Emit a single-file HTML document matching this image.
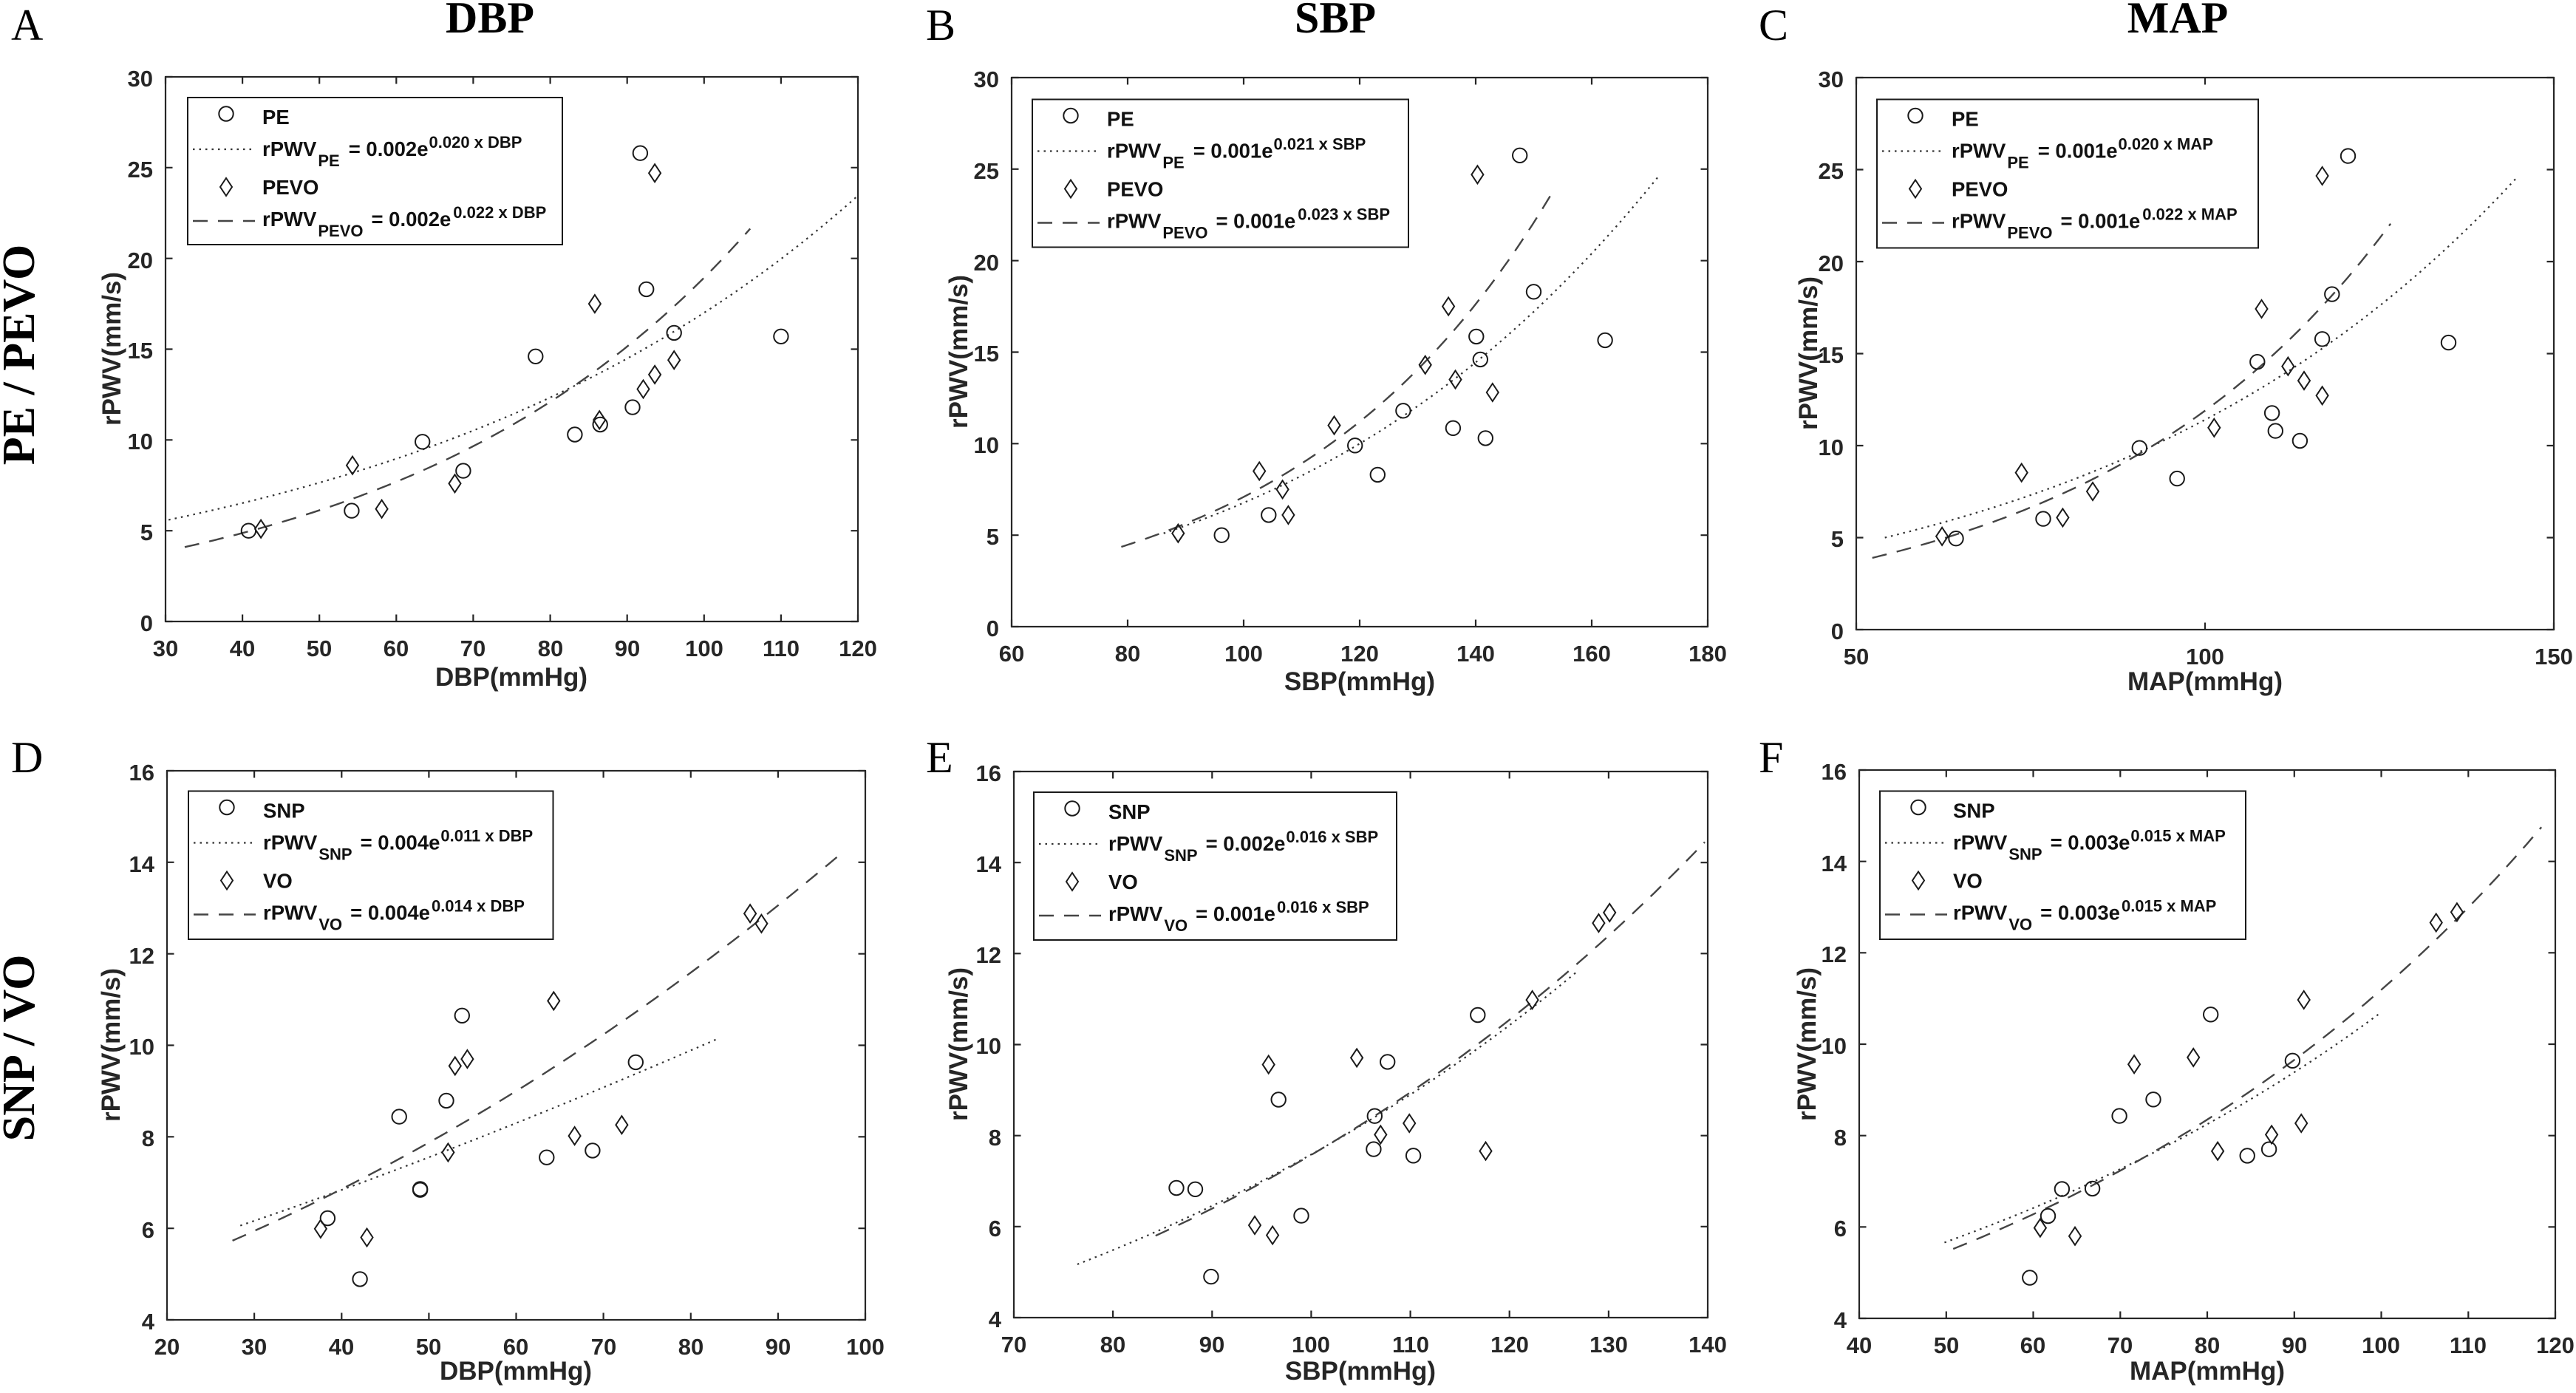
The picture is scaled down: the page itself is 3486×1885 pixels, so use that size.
<!DOCTYPE html>
<html>
<head>
<meta charset="utf-8">
<style>
html,body{margin:0;padding:0;background:#fff;}
svg{display:block;}
.tk{font-family:"Liberation Sans",Arial,sans-serif;font-weight:bold;font-size:31px;fill:#262626;}
.tx{text-anchor:middle;}
.ty{text-anchor:end;}
.al{font-family:"Liberation Sans",Arial,sans-serif;font-weight:bold;font-size:35px;fill:#262626;text-anchor:middle;}
.lg{font-family:"Liberation Sans",Arial,sans-serif;font-weight:bold;font-size:27.5px;fill:#111;}
.sm{font-size:22px;}
.ti{font-family:"Liberation Serif","Times New Roman",serif;font-weight:bold;font-size:60px;fill:#000;text-anchor:middle;}
.pl{font-family:"Liberation Serif","Times New Roman",serif;font-size:60px;fill:#000;}
.rl{font-family:"Liberation Serif","Times New Roman",serif;font-weight:bold;font-size:62px;fill:#000;text-anchor:middle;}
.ax{fill:none;stroke:#262626;stroke-width:2.2;}
.lb{fill:#fff;stroke:#1a1a1a;stroke-width:2;}
.mk{fill:none;stroke:#1a1a1a;stroke-width:2;}
.dt{fill:none;stroke:#333;stroke-width:2.2;stroke-dasharray:2.5 6;}
.ds{fill:none;stroke:#444;stroke-width:2.4;stroke-dasharray:20 14;}
</style>
</head>
<body>
<svg id="S" width="3486" height="1885" viewBox="0 0 3486 1885" xmlns="http://www.w3.org/2000/svg">
<rect x="0" y="0" width="3486" height="1885" fill="#fff"/>

<!-- Titles and panel letters -->
<text class="ti" x="663" y="44">DBP</text>
<text class="ti" x="1807" y="44">SBP</text>
<text class="ti" x="2947" y="44">MAP</text>
<text class="pl" x="15" y="54">A</text>
<text class="pl" x="1253" y="54">B</text>
<text class="pl" x="2380" y="54">C</text>
<text class="pl" x="15" y="1045">D</text>
<text class="pl" x="1253" y="1045">E</text>
<text class="pl" x="2380" y="1045">F</text>
<text class="rl" transform="translate(46,480) rotate(-90)">PE / PEVO</text>
<text class="rl" transform="translate(46,1418) rotate(-90)">SNP / VO</text>

<!-- dynamic data layer -->
<g id="dyn"></g>

<!-- Axes boxes -->
<rect class="ax" x="224" y="104" width="937" height="737"/>
<rect class="ax" x="1369" y="105" width="942" height="743"/>
<rect class="ax" x="2512" y="105" width="944" height="747"/>
<rect class="ax" x="226" y="1043" width="945" height="743"/>
<rect class="ax" x="1372" y="1044" width="939" height="739"/>
<rect class="ax" x="2516" y="1042" width="942" height="742"/>

<!-- Panel A ticks labels -->
<g class="tk tx">
<text x="224" y="888">30</text><text x="328" y="888">40</text><text x="432" y="888">50</text><text x="536" y="888">60</text><text x="640" y="888">70</text><text x="745" y="888">80</text><text x="849" y="888">90</text><text x="953" y="888">100</text><text x="1057" y="888">110</text><text x="1161" y="888">120</text>
</g>
<g class="tk ty">
<text x="207" y="854">0</text><text x="207" y="731">5</text><text x="207" y="608">10</text><text x="207" y="485">15</text><text x="207" y="363">20</text><text x="207" y="240">25</text><text x="207" y="117">30</text>
</g>
<text class="al" x="692" y="928">DBP(mmHg)</text>
<text class="al" transform="translate(163,472) rotate(-90)">rPWV(mm/s)</text>

<!-- Panel B -->
<g class="tk tx">
<text x="1369" y="895">60</text><text x="1526" y="895">80</text><text x="1683" y="895">100</text><text x="1840" y="895">120</text><text x="1997" y="895">140</text><text x="2154" y="895">160</text><text x="2311" y="895">180</text>
</g>
<g class="tk ty">
<text x="1352" y="861">0</text><text x="1352" y="737">5</text><text x="1352" y="613">10</text><text x="1352" y="489">15</text><text x="1352" y="366">20</text><text x="1352" y="242">25</text><text x="1352" y="118">30</text>
</g>
<text class="al" x="1840" y="934">SBP(mmHg)</text>
<text class="al" transform="translate(1309,476) rotate(-90)">rPWV(mm/s)</text>

<!-- Panel C -->
<g class="tk tx">
<text x="2512" y="899">50</text><text x="2984" y="899">100</text><text x="3456" y="899">150</text>
</g>
<g class="tk ty">
<text x="2495" y="865">0</text><text x="2495" y="740">5</text><text x="2495" y="616">10</text><text x="2495" y="491">15</text><text x="2495" y="367">20</text><text x="2495" y="242">25</text><text x="2495" y="118">30</text>
</g>
<text class="al" x="2984" y="934">MAP(mmHg)</text>
<text class="al" transform="translate(2459,478) rotate(-90)">rPWV(mm/s)</text>

<!-- Panel D -->
<g class="tk tx">
<text x="226" y="1833">20</text><text x="344" y="1833">30</text><text x="462" y="1833">40</text><text x="580" y="1833">50</text><text x="698" y="1833">60</text><text x="817" y="1833">70</text><text x="935" y="1833">80</text><text x="1053" y="1833">90</text><text x="1171" y="1833">100</text>
</g>
<g class="tk ty">
<text x="209" y="1799">4</text><text x="209" y="1675">6</text><text x="209" y="1551">8</text><text x="209" y="1427">10</text><text x="209" y="1304">12</text><text x="209" y="1180">14</text><text x="209" y="1056">16</text>
</g>
<text class="al" x="698" y="1867">DBP(mmHg)</text>
<text class="al" transform="translate(162,1414) rotate(-90)">rPWV(mm/s)</text>

<!-- Panel E -->
<g class="tk tx">
<text x="1372" y="1830">70</text><text x="1506" y="1830">80</text><text x="1640" y="1830">90</text><text x="1774" y="1830">100</text><text x="1909" y="1830">110</text><text x="2043" y="1830">120</text><text x="2177" y="1830">130</text><text x="2311" y="1830">140</text>
</g>
<g class="tk ty">
<text x="1355" y="1796">4</text><text x="1355" y="1673">6</text><text x="1355" y="1550">8</text><text x="1355" y="1426">10</text><text x="1355" y="1303">12</text><text x="1355" y="1180">14</text><text x="1355" y="1057">16</text>
</g>
<text class="al" x="1841" y="1867">SBP(mmHg)</text>
<text class="al" transform="translate(1309,1413) rotate(-90)">rPWV(mm/s)</text>

<!-- Panel F -->
<g class="tk tx">
<text x="2516" y="1831">40</text><text x="2634" y="1831">50</text><text x="2751" y="1831">60</text><text x="2869" y="1831">70</text><text x="2987" y="1831">80</text><text x="3105" y="1831">90</text><text x="3222" y="1831">100</text><text x="3340" y="1831">110</text><text x="3458" y="1831">120</text>
</g>
<g class="tk ty">
<text x="2499" y="1797">4</text><text x="2499" y="1673">6</text><text x="2499" y="1550">8</text><text x="2499" y="1426">10</text><text x="2499" y="1302">12</text><text x="2499" y="1179">14</text><text x="2499" y="1055">16</text>
</g>
<text class="al" x="2987" y="1867">MAP(mmHg)</text>
<text class="al" transform="translate(2457,1413) rotate(-90)">rPWV(mm/s)</text>

<!-- Legend A -->
<rect class="lb" x="254" y="132" width="507" height="199"/>
<circle class="mk" cx="306" cy="154" r="9.7"/>
<path class="mk" d="M306 241 L314 253 L306 265 L298 253 Z"/>
<line class="dt" x1="261" y1="202" x2="345" y2="202"/>
<line class="ds" x1="261" y1="299" x2="345" y2="299"/>
<text class="lg" x="355" y="168">PE</text>
<text class="lg" x="355" y="211">rPWV<tspan class="sm" dx="2" dy="14">PE</tspan><tspan dx="12" dy="-14">= 0.002e</tspan><tspan class="sm" dx="1" dy="-11">0.020 x DBP</tspan></text>
<text class="lg" x="355" y="263">PEVO</text>
<text class="lg" x="355" y="306">rPWV<tspan class="sm" dx="2" dy="14">PEVO</tspan><tspan dx="11" dy="-14">= 0.002e</tspan><tspan class="sm" dx="3" dy="-11">0.022 x DBP</tspan></text>

<!-- Legend B -->
<rect class="lb" x="1397" y="134.5" width="509" height="200"/>
<circle class="mk" cx="1449" cy="156.5" r="9.7"/>
<path class="mk" d="M1449 243.5 L1457 255.5 L1449 267.5 L1441 255.5 Z"/>
<line class="dt" x1="1404" y1="204.5" x2="1488" y2="204.5"/>
<line class="ds" x1="1404" y1="301.5" x2="1488" y2="301.5"/>
<text class="lg" x="1498" y="170.5">PE</text>
<text class="lg" x="1498" y="213.5">rPWV<tspan class="sm" dx="2" dy="14">PE</tspan><tspan dx="12" dy="-14">= 0.001e</tspan><tspan class="sm" dx="1" dy="-11">0.021 x SBP</tspan></text>
<text class="lg" x="1498" y="265.5">PEVO</text>
<text class="lg" x="1498" y="308.5">rPWV<tspan class="sm" dx="2" dy="14">PEVO</tspan><tspan dx="11" dy="-14">= 0.001e</tspan><tspan class="sm" dx="3" dy="-11">0.023 x SBP</tspan></text>

<!-- Legend C -->
<rect class="lb" x="2540" y="134.5" width="516" height="201"/>
<circle class="mk" cx="2592" cy="156.5" r="9.7"/>
<path class="mk" d="M2592 243.5 L2600 255.5 L2592 267.5 L2584 255.5 Z"/>
<line class="dt" x1="2547" y1="204.5" x2="2631" y2="204.5"/>
<line class="ds" x1="2547" y1="301.5" x2="2631" y2="301.5"/>
<text class="lg" x="2641" y="170.5">PE</text>
<text class="lg" x="2641" y="213.5">rPWV<tspan class="sm" dx="2" dy="14">PE</tspan><tspan dx="12" dy="-14">= 0.001e</tspan><tspan class="sm" dx="1" dy="-11">0.020 x MAP</tspan></text>
<text class="lg" x="2641" y="265.5">PEVO</text>
<text class="lg" x="2641" y="308.5">rPWV<tspan class="sm" dx="2" dy="14">PEVO</tspan><tspan dx="11" dy="-14">= 0.001e</tspan><tspan class="sm" dx="3" dy="-11">0.022 x MAP</tspan></text>

<!-- Legend D -->
<rect class="lb" x="255" y="1070.5" width="493.5" height="200.5"/>
<circle class="mk" cx="307" cy="1092.5" r="9.7"/>
<path class="mk" d="M307 1179.5 L315 1191.5 L307 1203.5 L299 1191.5 Z"/>
<line class="dt" x1="262" y1="1140.5" x2="346" y2="1140.5"/>
<line class="ds" x1="262" y1="1237.5" x2="346" y2="1237.5"/>
<text class="lg" x="356" y="1106.5">SNP</text>
<text class="lg" x="356" y="1149.5">rPWV<tspan class="sm" dx="2" dy="14">SNP</tspan><tspan dx="11" dy="-14">= 0.004e</tspan><tspan class="sm" dx="1" dy="-11">0.011 x DBP</tspan></text>
<text class="lg" x="356" y="1201.5">VO</text>
<text class="lg" x="356" y="1244.5">rPWV<tspan class="sm" dx="2" dy="14">VO</tspan><tspan dx="11" dy="-14">= 0.004e</tspan><tspan class="sm" dx="2" dy="-11">0.014 x DBP</tspan></text>

<!-- Legend E -->
<rect class="lb" x="1399" y="1072" width="491" height="200"/>
<circle class="mk" cx="1451" cy="1094" r="9.7"/>
<path class="mk" d="M1451 1181 L1459 1193 L1451 1205 L1443 1193 Z"/>
<line class="dt" x1="1406" y1="1142" x2="1490" y2="1142"/>
<line class="ds" x1="1406" y1="1239" x2="1490" y2="1239"/>
<text class="lg" x="1500" y="1108">SNP</text>
<text class="lg" x="1500" y="1151">rPWV<tspan class="sm" dx="2" dy="14">SNP</tspan><tspan dx="11" dy="-14">= 0.002e</tspan><tspan class="sm" dx="1" dy="-11">0.016 x SBP</tspan></text>
<text class="lg" x="1500" y="1203">VO</text>
<text class="lg" x="1500" y="1246">rPWV<tspan class="sm" dx="2" dy="14">VO</tspan><tspan dx="11" dy="-14">= 0.001e</tspan><tspan class="sm" dx="2" dy="-11">0.016 x SBP</tspan></text>

<!-- Legend F -->
<rect class="lb" x="2544" y="1070.5" width="495" height="200.5"/>
<circle class="mk" cx="2596" cy="1092.5" r="9.7"/>
<path class="mk" d="M2596 1179.5 L2604 1191.5 L2596 1203.5 L2588 1191.5 Z"/>
<line class="dt" x1="2551" y1="1140.5" x2="2635" y2="1140.5"/>
<line class="ds" x1="2551" y1="1237.5" x2="2635" y2="1237.5"/>
<text class="lg" x="2643" y="1106.5">SNP</text>
<text class="lg" x="2643" y="1149.5">rPWV<tspan class="sm" dx="2" dy="14">SNP</tspan><tspan dx="11" dy="-14">= 0.003e</tspan><tspan class="sm" dx="1" dy="-11">0.015 x MAP</tspan></text>
<text class="lg" x="2643" y="1201.5">VO</text>
<text class="lg" x="2643" y="1244.5">rPWV<tspan class="sm" dx="2" dy="14">VO</tspan><tspan dx="11" dy="-14">= 0.003e</tspan><tspan class="sm" dx="2" dy="-11">0.015 x MAP</tspan></text>
</svg>

<script>
(function(){
var NS='http://www.w3.org/2000/svg';
var G=document.getElementById('dyn');
function el(t,a){var e=document.createElementNS(NS,t);for(var k in a)e.setAttribute(k,a[k]);G.appendChild(e);return e;}
function rng(a,b,s){var r=[];for(var v=a;v<=b+1e-9;v+=s)r.push(v);return r;}
var P=[
{L:224,R:1161,T:104,B:841,x0:30,x1:120,y0:0,y1:30,xt:rng(30,120,10),yt:rng(0,30,5),
 c:[[91.7,25.8],[92.5,18.3],[78.1,14.6],[96.1,15.9],[110,15.7],[90.7,11.8],[86.5,10.85],[83.2,10.3],[63.4,9.9],[68.7,8.3],[54.2,6.1],[40.8,5.0]],
 d:[[93.6,24.7],[85.8,17.5],[96.1,14.4],[93.6,13.6],[92.1,12.8],[86.4,11.1],[54.3,8.6],[67.6,7.6],[58.1,6.2],[42.4,5.1]],
 dot:[[30.4,5.6],[80,12.34],[120,23.46]],dash:[[32.5,4.1],[80,12.1],[106,21.64]]},
{L:1369,R:2311,T:105,B:848,x0:60,x1:180,y0:0,y1:30,xt:rng(60,180,20),yt:rng(0,30,5),
 c:[[147.6,25.75],[150.0,18.3],[140.1,15.85],[162.3,15.65],[140.8,14.6],[127.5,11.8],[136.1,10.85],[141.7,10.3],[119.2,9.9],[123.1,8.3],[104.3,6.1],[96.2,5.0]],
 d:[[140.3,24.7],[135.3,17.5],[131.3,14.3],[136.5,13.5],[142.9,12.8],[115.6,11.0],[102.7,8.5],[106.7,7.5],[107.7,6.1],[88.7,5.1]],
 dot:[[86.2,5.1],[120,10.0],[171.6,24.64]],dash:[[78.9,4.36],[120,11.2],[152.9,23.56]]},
{L:2512,R:3456,T:105,B:852,x0:50,x1:150,y0:0,y1:30,xt:[50,100,150],yt:rng(0,30,5),
 c:[[120.5,25.74],[118.2,18.23],[116.8,15.79],[134.9,15.6],[107.5,14.55],[109.6,11.77],[110.1,10.8],[113.6,10.26],[90.6,9.87],[96.0,8.21],[76.8,6.02],[64.3,4.95]],
 d:[[116.8,24.66],[108.1,17.43],[111.9,14.31],[114.2,13.53],[116.8,12.72],[101.3,10.97],[73.7,8.53],[83.9,7.51],[79.6,6.09],[62.3,5.07]],
 dot:[[54.1,5.0],[108.8,13.3],[144.7,24.57]],dash:[[52.3,3.9],[108.8,14.6],[126.6,22.06]]},
{L:226,R:1171,T:1043,B:1786,x0:20,x1:100,y0:4,y1:16,xt:rng(20,100,10),yt:rng(4,16,2),
 c:[[53.8,10.65],[73.7,9.63],[52.0,8.79],[46.6,8.44],[63.5,7.55],[68.75,7.70],[49.0,6.84],[49.0,6.86],[38.4,6.22],[42.1,4.89]],
 d:[[86.8,12.88],[88.1,12.66],[64.3,10.97],[54.4,9.70],[53.0,9.55],[72.1,8.26],[66.7,8.02],[52.2,7.66],[37.6,5.99],[42.9,5.80]],
 dot:[[28.4,6.06],[60,8.3],[83.3,10.16]],dash:[[27.5,5.73],[60,9.0],[97.6,14.25]]},
{L:1372,R:2311,T:1044,B:1783,x0:70,x1:140,y0:4,y1:16,xt:rng(70,140,10),yt:rng(4,16,2),
 c:[[116.8,10.65],[107.7,9.62],[96.7,8.79],[106.4,8.43],[106.3,7.70],[110.3,7.56],[86.4,6.85],[88.3,6.82],[99.0,6.24],[89.9,4.90]],
 d:[[130.1,12.90],[129.0,12.67],[122.3,10.98],[104.6,9.71],[95.7,9.56],[109.9,8.27],[107.0,8.02],[117.6,7.66],[94.3,6.03],[96.1,5.81]],
 dot:[[76.4,5.17],[110,8.9],[126.8,11.6]],dash:[[84.3,5.8],[110,8.95],[139.7,14.45]]},
{L:2516,R:3458,T:1042,B:1784,x0:40,x1:120,y0:4,y1:16,xt:rng(40,120,10),yt:rng(4,16,2),
 c:[[80.4,10.65],[89.8,9.64],[73.8,8.79],[69.9,8.43],[84.6,7.56],[87.1,7.70],[63.3,6.83],[66.8,6.84],[61.7,6.24],[59.6,4.89]],
 d:[[108.7,12.89],[106.3,12.66],[91.1,10.97],[78.4,9.71],[71.6,9.56],[90.8,8.27],[87.4,8.02],[81.2,7.66],[60.8,5.98],[64.8,5.80]],
 dot:[[49.8,5.66],[80,8.25],[100,10.7]],dash:[[50.8,5.52],[80,8.35],[118.4,14.75]]}
];
P.forEach(function(p){
  function sx(v){return p.L+(v-p.x0)*(p.R-p.L)/(p.x1-p.x0);}
  function sy(v){return p.B-(v-p.y0)*(p.B-p.T)/(p.y1-p.y0);}
  var tl=9.5, d='';
  p.xt.forEach(function(v){var x=sx(v).toFixed(1);d+='M'+x+' '+p.B+'v'+(-tl)+'M'+x+' '+p.T+'v'+tl;});
  p.yt.forEach(function(v){var y=sy(v).toFixed(1);d+='M'+p.L+' '+y+'h'+tl+'M'+p.R+' '+y+'h'+(-tl);});
  el('path',{d:d,fill:'none',stroke:'#262626','stroke-width':2.2});
  function curve(pts,cls){
    var n=pts.length,lx=[],ly=[];
    for(var i=0;i<n;i++){lx.push(pts[i][0]);ly.push(Math.log(pts[i][1]));}
    function f(x){var s=0;for(var i=0;i<n;i++){var t=ly[i];for(var j=0;j<n;j++){if(j!==i)t*=(x-lx[j])/(lx[i]-lx[j]);}s+=t;}return Math.exp(s);}
    var a=lx[0],b=lx[n-1],dd='';
    for(var k=0;k<=120;k++){var x=a+(b-a)*k/120;dd+=(k?'L':'M')+sx(x).toFixed(1)+' '+sy(f(x)).toFixed(1);}
    el('path',{d:dd,'class':cls});
  }
  curve(p.dot,'dt');
  curve(p.dash,'ds');
  p.c.forEach(function(q){el('circle',{cx:sx(q[0]).toFixed(1),cy:sy(q[1]).toFixed(1),r:9.7,'class':'mk'});});
  p.d.forEach(function(q){var x=sx(q[0]),y=sy(q[1]);
    el('path',{d:'M'+x.toFixed(1)+' '+(y-12).toFixed(1)+'L'+(x+8).toFixed(1)+' '+y.toFixed(1)+'L'+x.toFixed(1)+' '+(y+12).toFixed(1)+'L'+(x-8).toFixed(1)+' '+y.toFixed(1)+'Z','class':'mk'});});
});
})();
</script>
</body>
</html>
